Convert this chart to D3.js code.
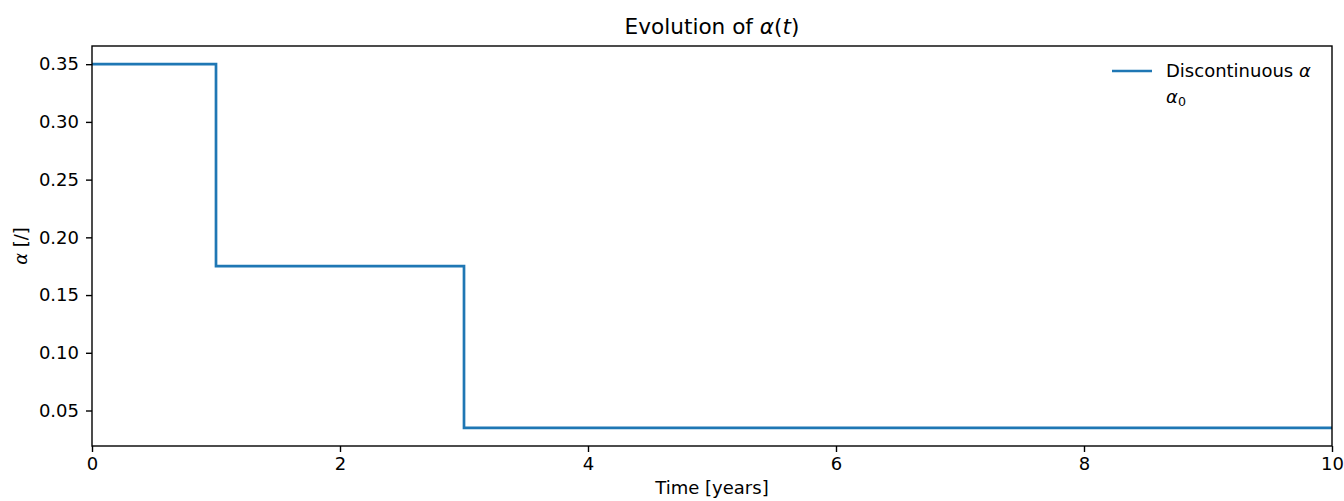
<!DOCTYPE html>
<html>
  <head>
    <meta charset="utf-8">
    <title>Evolution of alpha</title>
    <script src="https://d3js.org/d3.v7.min.js"></script>
    <style>
      body { margin: 0; background: #fff; }
      text { font-family: "DejaVu Sans", sans-serif; fill: #000; }
      .axis line { stroke: #000; stroke-width: 1.4px; }
      .axis text { font-size: 18px; font-family: "DejaVu Sans", sans-serif; }
    </style>
  </head>
  <body>
    <script>

      // step data (value holds until the next time point)
      var times = [0, 1, 3, 10];
      var alphas = [0.35, 0.175, 0.035, 0.035];
      var xTicks = [0, 2, 4, 6, 8, 10];
      var yTicks = [0.05, 0.10, 0.15, 0.20, 0.25, 0.30, 0.35];

      var width = 1344, height = 501;
      var margin = {top: 46, right: 12, bottom: 55, left: 92};

      var svg = d3.select("body").append("svg")
        .attr("width", width)
        .attr("height", height);

      var xScale = d3.scaleLinear().domain([0, 10])
        .range([margin.left, width - margin.right]);
      var yScale = d3.scaleLinear().domain([0.01925, 0.36575])
        .range([height - margin.bottom, margin.top]);

      var data = times.map(function (t, i){ return {t: t, a: alphas[i]}; });

      var line = d3.line()
        .x(function (d){ return xScale(d.t); })
        .y(function (d){ return yScale(d.a); })
        .curve(d3.curveStepAfter);

      svg.append("path")
        .datum(data)
        .attr("d", line)
        .attr("fill", "none")
        .attr("stroke", "#1f77b4")
        .attr("stroke-width", 2.7);

      // axes
      svg.append("g").attr("class", "axis")
        .attr("transform", "translate(0," + (height - margin.bottom) + ")")
        .call(d3.axisBottom(xScale).tickValues(xTicks).tickSize(6).tickPadding(5)
          .tickFormat(d3.format("d")))
        .call(function (g){ g.select(".domain").remove(); });

      svg.append("g").attr("class", "axis")
        .attr("transform", "translate(" + margin.left + ",0)")
        .call(d3.axisLeft(yScale).tickValues(yTicks).tickSize(6).tickPadding(7)
          .tickFormat(d3.format(".2f")))
        .call(function (g){ g.select(".domain").remove(); });

      // frame
      svg.append("rect")
        .attr("x", margin.left)
        .attr("y", margin.top)
        .attr("width", width - margin.left - margin.right)
        .attr("height", height - margin.top - margin.bottom)
        .attr("fill", "none")
        .attr("stroke", "#000")
        .attr("stroke-width", 1.4);

      // title
      var title = svg.append("text")
        .attr("x", (margin.left + width - margin.right) / 2)
        .attr("y", 34)
        .attr("text-anchor", "middle")
        .style("font-size", "21.6px");
      title.append("tspan").text("Evolution of ");
      title.append("tspan").style("font-style", "italic").text("α");
      title.append("tspan").text("(");
      title.append("tspan").style("font-style", "italic").text("t");
      title.append("tspan").text(")");

      // axis labels
      svg.append("text")
        .attr("x", (margin.left + width - margin.right) / 2)
        .attr("y", 494)
        .attr("text-anchor", "middle")
        .style("font-size", "18px")
        .text("Time [years]");

      var yl = svg.append("text")
        .attr("transform", "translate(27," + ((margin.top + height - margin.bottom) / 2) + ") rotate(-90)")
        .attr("text-anchor", "middle")
        .style("font-size", "18px");
      yl.append("tspan").style("font-style", "italic").text("α");
      yl.append("tspan").text(" [/]");

      // legend
      var lg = svg.append("g");
      lg.append("line")
        .attr("x1", 1112).attr("x2", 1152)
        .attr("y1", 71).attr("y2", 71)
        .attr("stroke", "#1f77b4")
        .attr("stroke-width", 2.7);
      var l1 = lg.append("text")
        .attr("x", 1166).attr("y", 77)
        .style("font-size", "18px");
      l1.append("tspan").text("Discontinuous ");
      l1.append("tspan").style("font-style", "italic").text("α");
      var l2 = lg.append("text")
        .attr("x", 1166).attr("y", 103)
        .style("font-size", "18px");
      l2.append("tspan").style("font-style", "italic").text("α");
      l2.append("tspan").attr("dy", 3).style("font-size", "12.6px").text("0");

    </script>
  </body>
</html>
